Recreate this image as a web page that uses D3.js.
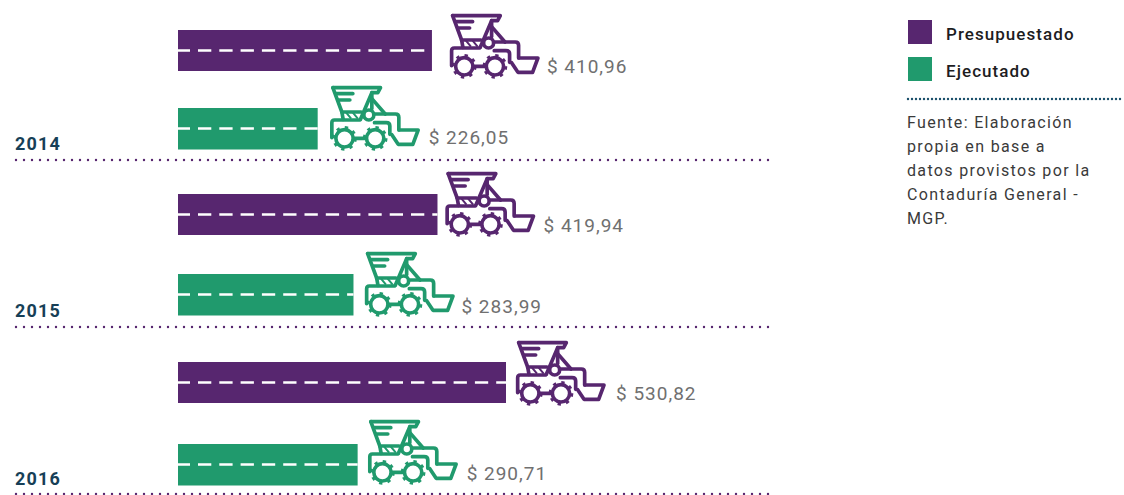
<!DOCTYPE html>
<html><head><meta charset="utf-8">
<script src="https://cdn.jsdelivr.net/npm/d3@7"></script>
<style>html,body{margin:0;padding:0;background:#fff}svg{display:block}text{font-family:Roboto,"Noto Sans",sans-serif}</style>
</head><body><div id="c"></div>
<script>
const years=["2014","2015","2016"];
const seriesNames=["Presupuestado","Ejecutado"];
const presupuestado=[410.96,419.94,530.82];
const ejecutado=[226.05,283.99,290.71];
const valueLabels=[["$ 410,96","$ 226,05"],["$ 419,94","$ 283,99"],["$ 530,82","$ 290,71"]];
const sourceLines=["Fuente: Elaboración","propia en base a","datos provistos por la","Contaduría General -","MGP."];
const colors=["#57266f","#209a6d"];
const values=[presupuestado,ejecutado];
// per-mark layout nudges [presupuestado, ejecutado] for each year
const barNudge=[[0,0],[-3,-1],[-2,2]];
const iconDx=[[19,13.5],[9,12.5],[11,11.5]];
const iconDy=[[-16,-22],[-22,-22],[-21,-24]];
const labelDx=[[115,111],[106,108],[110,109]];
const labelDy=[[43,36],[38,39],[38,36]];
const yearNudge=[-10,-10,-9];

const W=1124,H=495,x0=178,barH=41;
const svg=d3.select("#c").append("svg").attr("width",W).attr("height",H);
const x=d3.scaleLinear().domain([0,530.82]).range([0,328]);
const sep=d3.scalePoint().domain(years).range([160,494]);
const serY=d3.scalePoint().domain(seriesNames).range([-130,-53]);

function drawIcon(g,c){
  const k=g.append("g").attr("transform","scale(0.3333) translate(-90,-40)")
    .attr("fill","none").attr("stroke",c).attr("stroke-width",11)
    .attr("stroke-linecap","round").attr("stroke-linejoin","round");
  [
   "M95 45H238L230 60H212L178 140",
   "M95 45L122 118H180",
   "M105 63H155","M112 82H146",
   "M122 118L126 140",
   "M212 60V108","M212 78L252 124",
   "M176 142H100Q92 142 92 150V195",
   "M220 124H283Q293 124 293 134V172",
   "M220 150H255Q266 150 266 160V185",
   "M295 172H351L335 215H291L272 186",
   "M155 197H197"
  ].forEach(d=>k.append("path").attr("d",d));
  k.append("circle").attr("cx",203).attr("cy",127).attr("r",15).attr("fill","#fff");
  k.append("path").attr("d","M135 120L150 138M155 120L170 138").attr("stroke-width",6).attr("stroke-linecap","butt");
  [130,222].forEach(cx=>{
    k.append("circle").attr("cx",cx).attr("cy",197).attr("r",26).attr("fill","#fff");
    k.append("circle").attr("cx",cx).attr("cy",197).attr("r",33).attr("stroke-width",8)
      .attr("stroke-dasharray","10 15.9").attr("stroke-linecap","butt");
  });
}

years.forEach((yr,i)=>{
  seriesNames.forEach((s,j)=>{
    const v=values[j][i],w=x(v),top=sep(yr)+serY(s)+barNudge[i][j]+(j?1:0),c=colors[j];
    svg.append("rect").attr("x",x0).attr("y",top).attr("width",w).attr("height",barH+(j?0.5:0)).attr("fill",c);
    svg.append("line").attr("x1",x0).attr("x2",x0+w).attr("y1",top+barH/2).attr("y2",top+barH/2)
      .attr("stroke","#fff").attr("stroke-width",2.6).attr("stroke-dasharray","13.3 8").attr("stroke-dashoffset",1.3);
    drawIcon(svg.append("g").attr("transform",`translate(${x0+w+iconDx[i][j]},${top+iconDy[i][j]})`),c);
    svg.append("text").attr("x",x0+w+labelDx[i][j]).attr("y",top+labelDy[i][j])
      .attr("font-size",19).attr("fill","#707070").attr("letter-spacing","1").text(valueLabels[i][j]);
  });
  svg.append("text").attr("x",15).attr("y",sep(yr)+yearNudge[i]).attr("font-size",18).attr("font-weight",700)
    .attr("letter-spacing","1.2").attr("fill","#173f57").text(yr);
  svg.append("line").attr("x1",16).attr("x2",770).attr("y1",sep(yr)).attr("y2",sep(yr))
    .attr("stroke","#57266f").attr("stroke-width",2.4).attr("stroke-linecap","round").attr("stroke-dasharray","0 8");
});

seriesNames.forEach((s,j)=>{
  const y=[20,57][j];
  svg.append("rect").attr("x",908).attr("y",y).attr("width",24).attr("height",24).attr("fill",colors[j]);
  svg.append("text").attr("x",946).attr("y",y+19.5).attr("font-size",17).attr("font-weight",500)
    .attr("letter-spacing","1.05").attr("fill","#1d1d1f").text(s);
});
svg.append("line").attr("x1",908).attr("x2",1124).attr("y1",99).attr("y2",99)
  .attr("stroke","#1b4f6b").attr("stroke-width",2.4).attr("stroke-linecap","round").attr("stroke-dasharray","0 4");
sourceLines.forEach((t,i)=>{
  svg.append("text").attr("x",907).attr("y",128+i*24).attr("font-size",16)
    .attr("letter-spacing","1.35").attr("fill","#3a3a3a").text(t);
});
</script></body></html>
